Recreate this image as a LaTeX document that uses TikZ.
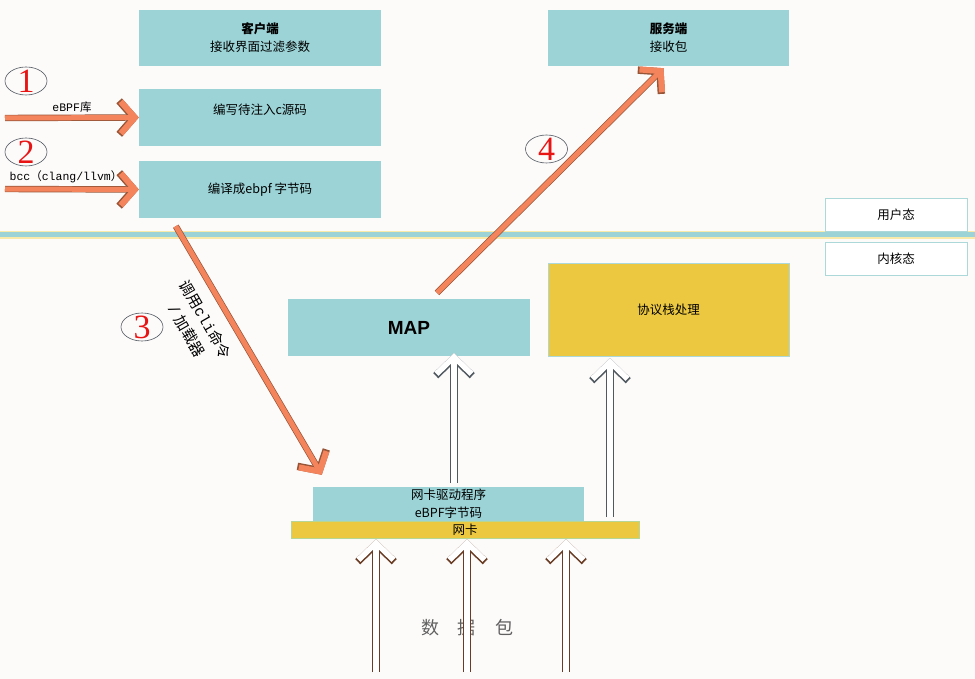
\documentclass[tikz,border=0pt]{standalone}
\usepackage{fontspec}
\setmainfont{Noto Sans CJK SC}
\setsansfont{Liberation Sans}
\setmonofont{Liberation Mono}
\newfontfamily\cjk{Noto Sans CJK SC}
\newfontfamily\digitfont{Liberation Serif}
\usepackage{tikz}
\usetikzlibrary{positioning, calc, arrows.meta, shapes.geometric}
\definecolor{boxteal}{RGB}{155,211,214}
\definecolor{boxyellow}{RGB}{236,200,64}
\definecolor{edgeteal}{RGB}{172,216,218}
\definecolor{edgegreen}{RGB}{182,214,150}
\definecolor{arroworange}{RGB}{244,132,92}
\definecolor{arrowbrown}{RGB}{150,85,55}
\definecolor{edgegray}{RGB}{80,88,96}
\definecolor{edgebrown}{RGB}{105,60,35}
\definecolor{bgpaper}{RGB}{253,251,250}
\definecolor{numred}{RGB}{232,20,20}
\definecolor{bandcream}{RGB}{250,234,170}
\definecolor{textgray}{RGB}{96,96,96}

\begin{document}
\begin{tikzpicture}[
  x=1pt, y=-1pt,
  tealbox/.style={fill=boxteal, minimum width=242pt, minimum height=57pt, inner sep=0pt, align=center, font=\fontsize{12.5}{18}\selectfont},
  boxtext/.style={inner sep=0pt, font=\fontsize{12.5}{18}\selectfont},
  modebox/.style={fill=white, draw=edgeteal, minimum width=142pt, minimum height=33pt, inner sep=0pt, font=\fontsize{12.5}{18}\selectfont},
  yellowbox/.style={fill=boxyellow, draw=edgeteal, inner sep=0pt, align=center, font=\fontsize{12.5}{18}\selectfont},
  monolabel/.style={inner sep=0pt, font=\ttfamily\fontsize{11.5}{13}\selectfont},
  stepcircle/.style={ellipse, draw=edgegray, line width=0.6pt, minimum width=42pt, minimum height=28pt, inner sep=0pt},
  steptext/.style={inner sep=0pt, text=numred, font=\digitfont\fontsize{34}{34}\selectfont},
  bigarrow/.style={draw=arroworange, line width=5pt, -{Straight Barb[length=14pt, width=32pt, line width=6pt]},
    preaction={draw=arrowbrown, line width=6.4pt, -{Straight Barb[length=14.7pt, width=33.5pt, line width=7.4pt]}}},
  hollowarrow/.style={draw=white, line width=5.6pt, shorten >=0.8pt, -{Straight Barb[length=17pt, width=35pt, line width=5.6pt]},
    preaction={draw=#1, line width=7.2pt, -{Straight Barb[length=17.7pt, width=36.5pt, line width=7.2pt]}}},
]

% paper
\useasboundingbox (0,0) rectangle (975,679);
\fill[bgpaper] (0,0) rectangle (975,679);

% ==================== user / kernel border ====================
\draw[bandcream, line width=8pt] (0,235) -- (975,235);
\draw[boxteal, line width=5pt] (0,235) -- (975,235);
\node[modebox] (user) at (896,214.5) {用户态};
\node[modebox] (kernel) at (896,258.5) {内核态};

% ==================== user space ====================
\node[tealbox, minimum height=56pt] (client) at (260,38) {\textbf{客户端}\\接收界面过滤参数};
\node[tealbox] (write) at (260,117.5) {};
\node[boxtext] (writetext) at (260,110) {编写待注入c源码};
\node[tealbox] (compile) at (260,189.5) {编译成ebpf 字节码};
\node[tealbox, minimum width=241pt, minimum height=56pt] (server) at (668.5,38) {\textbf{服务端}\\接收包};

% ==================== kernel space ====================
\node[tealbox, font=\sffamily\bfseries\fontsize{19}{19}\selectfont] (map) at (409,327.5) {MAP};
\node[yellowbox, minimum width=241pt, minimum height=93pt] (protocol) at (668.5,309.5) {协议栈处理};
\node[tealbox, minimum width=271pt, minimum height=34pt] (driver) at (448.5,504) {网卡驱动程序\\eBPF字节码};
\node[yellowbox, draw=edgegreen, minimum width=348pt, minimum height=17pt] (nic) at (465,529.5) {网卡};

% ==================== steps ====================
\coordinate (libin) at (5,118);
\coordinate (bccin) at (5,189);
\draw[bigarrow] (libin) -- (write.west);
\draw[bigarrow] (bccin) -- (compile.west);
\node[monolabel] (liblabel) at (72,107) {eBPF{\cjk 库}};
\node[monolabel] (bcclabel) at (66,177) {bcc{\cjk （}clang/llvm{\cjk ）}};

\coordinate (loadfrom) at ($(compile.south west)+(37,8)$);
\coordinate (loadto) at ($(driver.north west)+(9,-12)$);
\draw[bigarrow] (loadfrom) -- (loadto);
\node[rotate=-60, align=center, inner sep=0pt, font=\cjk\fontsize{15}{21.5}\selectfont] (loadlabel) at (196,325) {调用{\ttfamily cli}命令\\{\ttfamily/} 加载器};

\coordinate (mapout) at ($(map.north)+(28,-6)$);
\coordinate (serverin) at ($(server.south)+(-5,2)$);
\draw[bigarrow] (mapout) -- (serverin);

\node[stepcircle, label={[steptext]center:1}] (num1) at (26,81) {};
\node[stepcircle, label={[steptext]center:2}] (num2) at (26,152) {};
\node[stepcircle, label={[steptext]center:3}] (num3) at (142,327) {};
\node[stepcircle, label={[steptext]center:4}] (num4) at (546.5,149) {};

% ==================== packets ====================
\node[text=textgray, inner sep=0pt, font=\fontsize{18}{18}\selectfont] (packet) at (467,628) {数\hspace{19pt}据\hspace{19pt}包};

\draw[hollowarrow=edgegray] ($(driver.north)+(5.5,-4)$) -- ($(map.south)+(45,-4)$);
\draw[hollowarrow=edgegray] ($(nic.north)+(145,-4)$) -- ($(protocol.south)+(-58.5,1)$);

\coordinate (pkt1) at (376,672);
\coordinate (pkt2) at (467,672);
\coordinate (pkt3) at (566,672);
\draw[hollowarrow=edgebrown] (pkt1) -- (pkt1 |- nic.south);
\draw[hollowarrow=edgebrown] (pkt2) -- (pkt2 |- nic.south);
\draw[hollowarrow=edgebrown] (pkt3) -- (pkt3 |- nic.south);

\end{tikzpicture}
\end{document}
